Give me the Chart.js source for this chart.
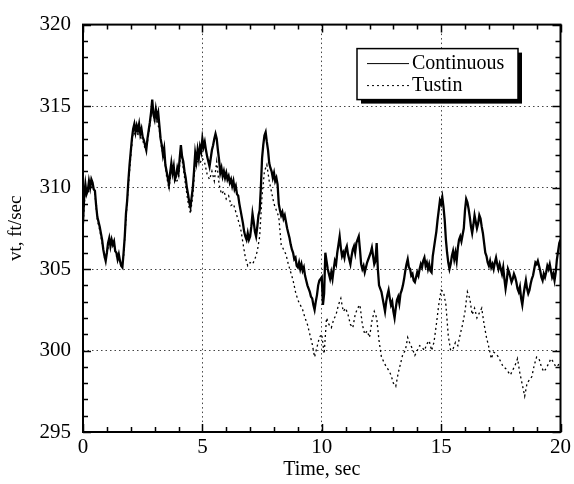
<!DOCTYPE html>
<html>
<head>
<meta charset="utf-8">
<script src="https://cdn.jsdelivr.net/npm/chart.js@4.4.0/dist/chart.umd.min.js"></script>
<style>
  html, body { margin: 0; padding: 0; background: #fff; }
  #wrap { width: 574px; height: 484px; }
</style>
</head>
<body>
<div id="wrap"><canvas id="chart" width="574" height="484"></canvas></div>
<script>
// series labels
const seriesNames = ['Continuous', 'Tustin'];

const contStep = 0.05;
const tustinStep = 0.1;

// vt, ft/sec - continuous model, one row per second
const contValues = [
  307.8,309.5,310.2,309.6,309.8,310.4,310.0,310.5,310.3,309.9,309.8,308.9,308.2,307.9,307.6,307.2,306.8,306.2,305.8,305.5,
  306.0,306.6,306.9,306.4,306.8,306.5,306.7,306.1,306.0,305.6,305.9,305.5,305.2,305.1,306.0,307.0,308.4,309.2,310.4,311.4,
  312.2,313.0,313.6,313.9,313.4,313.8,313.5,313.9,313.3,313.6,313.1,312.9,312.6,312.3,313.0,313.5,314.0,314.6,315.4,314.5,
  314.2,314.8,314.3,314.6,313.8,313.0,312.6,312.0,312.4,311.4,311.0,310.6,310.2,310.9,311.5,310.9,311.3,310.5,310.7,311.2,
  310.9,311.8,312.6,311.9,311.6,311.0,310.6,310.0,309.6,309.1,308.8,309.4,310.0,311.0,312.1,311.6,312.3,311.8,312.5,312.2,
  313.0,312.5,312.8,312.3,311.9,311.6,311.3,311.8,312.3,312.6,313.0,313.3,313.0,312.3,311.7,310.9,311.2,310.7,311.0,310.6,
  310.9,310.5,310.7,310.3,310.5,310.1,310.4,309.9,310.1,309.6,309.5,309.0,308.6,308.2,307.8,307.3,307.0,306.8,307.2,306.8,
  307.0,307.6,308.4,307.9,307.3,307.0,307.6,308.3,308.6,310.0,311.8,312.6,313.2,313.4,312.8,312.3,311.5,311.2,311.0,310.6,
  310.9,310.4,310.6,310.2,309.0,308.6,308.3,308.5,308.1,308.3,307.9,307.5,307.2,306.9,306.5,306.2,306.0,305.6,305.7,305.2,
  305.1,305.4,305.0,305.3,304.9,305.1,304.6,304.3,304.0,303.8,303.6,303.3,303.2,302.8,302.5,303.0,303.4,304.0,304.3,304.4,
  304.5,302.8,303.5,306.0,305.5,305.0,304.7,304.4,304.8,304.4,305.0,305.5,305.3,306.0,306.5,307.0,306.3,305.8,306.0,305.7,
  306.2,306.4,305.9,305.6,305.3,305.8,306.2,306.4,306.0,306.6,306.8,307.0,306.2,305.3,305.0,305.2,304.8,305.1,305.4,305.6,
  305.8,306.0,306.3,305.8,305.3,305.5,306.6,305.0,304.0,303.8,303.6,303.2,302.8,302.4,303.0,303.4,303.7,303.2,302.8,303.0,
  302.4,302.0,302.6,303.1,303.3,302.9,303.5,303.7,304.0,304.4,304.9,305.3,305.6,305.1,305.0,304.6,304.7,304.3,304.2,304.5,
  304.8,304.6,305.0,305.3,305.1,305.5,305.7,305.2,305.4,305.0,305.3,304.9,304.8,305.8,306.3,306.8,307.3,308.0,308.6,309.2,
  309.0,309.4,308.8,308.0,306.8,306.0,305.4,305.0,305.3,305.8,306.1,305.6,306.0,305.5,306.3,306.8,307.0,306.7,307.1,307.5,
  308.6,309.3,309.1,308.7,308.2,307.6,307.2,307.7,308.3,307.9,307.5,307.8,308.3,308.1,307.6,307.2,306.6,306.0,305.8,305.4,
  305.2,305.5,305.1,305.3,305.0,305.4,305.7,305.3,305.0,305.3,305.0,304.7,305.1,304.4,303.8,304.3,305.0,304.8,304.5,304.2,
  304.4,304.7,304.5,304.2,303.8,303.6,303.9,303.2,302.8,303.4,303.9,304.3,303.8,303.5,303.7,304.1,304.4,304.6,305.0,305.4,
  305.3,305.5,305.2,304.9,304.5,304.3,304.7,304.5,304.8,305.2,305.0,305.3,304.9,304.5,304.7,304.3,304.8,305.6,306.1,306.6,
  306.8
];

// vt, ft/sec - Tustin discretisation, one row per second
const tustinValues = [
  307.6,310.0,309.7,309.9,310.1,309.6,308.0,307.4,306.6,305.7,
  305.9,306.7,306.6,306.5,305.8,305.7,305.1,305.8,308.1,310.1,
  311.9,313.4,313.2,313.3,313.1,312.9,312.4,312.8,313.8,315.0,
  314.0,314.1,313.5,312.3,312.0,310.7,309.9,311.1,310.9,310.3,
  310.6,312.2,311.2,310.1,309.1,308.4,309.5,311.5,311.6,311.5,
  311.8,311.5,310.8,310.5,311.0,310.4,311.6,310.2,309.6,309.8,
  309.3,309.5,308.9,309.0,308.5,308.0,307.5,306.6,305.7,305.2,
  305.4,305.3,305.6,306.1,307.0,309.5,311.0,311.4,310.4,309.7,
  309.0,308.6,308.2,306.5,306.2,305.9,305.3,304.8,304.3,303.6,
  303.1,302.8,302.5,302.0,301.6,301.0,300.4,299.6,300.2,300.8,
  301.0,299.8,302.0,301.6,301.4,301.9,302.2,302.8,303.2,302.4,
  302.6,302.2,301.6,301.4,302.2,302.6,302.8,301.6,301.0,301.2,
  300.8,301.8,302.4,302.0,300.6,299.6,299.3,299.0,298.8,298.5,
  298.0,297.8,298.6,299.2,299.8,300.0,300.8,300.4,300.1,299.7,
  300.0,300.3,300.2,300.0,300.4,300.6,300.0,300.5,301.6,302.8,
  303.7,303.6,302.8,300.9,300.0,300.1,300.5,300.3,301.0,301.6,
  302.4,303.6,303.2,302.2,302.6,302.0,302.3,302.6,301.6,300.8,
  300.2,299.5,299.9,299.8,299.6,299.3,299.0,298.9,298.7,298.5,
  298.8,299.1,299.5,298.6,297.9,297.2,298.0,298.2,298.4,299.1,
  299.6,299.5,299.0,298.7,298.9,299.2,299.5,299.3,299.0,299.1,
  299.3
];

// axis ranges and labelled ticks
const xRange = [0, 20];
const yRange = [295, 320];
const xTickLabels = [0, 5, 10, 15, 20];
const yTickLabels = [295, 300, 305, 310, 315, 320];

const serif = '"Liberation Serif", "DejaVu Serif", "Times New Roman", serif';

function toPoints(values, step) {
  return values.map((v, i) => ({ x: +(i * step).toFixed(2), y: v }));
}

// inward ticks on all four sides + frame
const frameTicks = {
  id: 'frameTicks',
  afterDatasetsDraw(chart) {
    const { ctx, chartArea: a, scales: { x, y } } = chart;
    ctx.save();
    ctx.strokeStyle = '#000';
    ctx.lineWidth = 1.5;
    ctx.beginPath();
    for (let v = xRange[0]; v <= xRange[1]; v++) {
      const px = Math.round(x.getPixelForValue(v)) + 0.5;
      const len = xTickLabels.includes(v) ? 8 : 5;
      ctx.moveTo(px, a.bottom); ctx.lineTo(px, a.bottom - len);
      ctx.moveTo(px, a.top); ctx.lineTo(px, a.top + len);
    }
    for (let v = yRange[0]; v <= yRange[1]; v++) {
      const py = Math.round(y.getPixelForValue(v)) + 0.5;
      const len = yTickLabels.includes(v) ? 8 : 5;
      ctx.moveTo(a.left, py); ctx.lineTo(a.left + len, py);
      ctx.moveTo(a.right, py); ctx.lineTo(a.right - len, py);
    }
    ctx.stroke();
    ctx.lineWidth = 2;
    ctx.strokeRect(a.left, a.top, a.right - a.left, a.bottom - a.top);
    ctx.restore();
  }
};

// boxed legend with drop shadow, inside the plot
const boxLegend = {
  id: 'boxLegend',
  afterDraw(chart) {
    const { ctx, chartArea: a } = chart;
    const bx = a.left + 274, by = a.top + 24, bw = 161, bh = 51;
    ctx.save();
    ctx.fillStyle = '#000';
    ctx.fillRect(bx + 4, by + 4, bw, bh);
    ctx.fillStyle = '#fff';
    ctx.fillRect(bx, by, bw, bh);
    ctx.strokeStyle = '#000';
    ctx.lineWidth = 1.5;
    ctx.strokeRect(bx, by, bw, bh);
    ctx.font = '20px ' + serif;
    ctx.textBaseline = 'middle';
    ctx.fillStyle = '#000';
    chart.data.datasets.forEach((ds, i) => {
      const ly = by + 15 + i * 22;
      ctx.beginPath();
      ctx.lineWidth = 1;
      ctx.setLineDash(ds.borderDash || []);
      ctx.moveTo(bx + 10, ly);
      ctx.lineTo(bx + 52, ly);
      ctx.stroke();
      ctx.setLineDash([]);
      ctx.fillText(ds.label, bx + 55, ly);
    });
    ctx.restore();
  }
};

new Chart(document.getElementById('chart'), {
  type: 'line',
  data: {
    datasets: [
      {
        label: seriesNames[0],
        data: toPoints(contValues, contStep),
        borderColor: '#000',
        borderWidth: 2.3,
        pointRadius: 0,
        tension: 0
      },
      {
        label: seriesNames[1],
        data: toPoints(tustinValues, tustinStep),
        borderColor: '#000',
        borderWidth: 1.3,
        borderDash: [2, 3],
        pointRadius: 0,
        tension: 0
      }
    ]
  },
  options: {
    responsive: false,
    animation: false,
    devicePixelRatio: 1,
    layout: { padding: { top: 17, right: 11, left: 0, bottom: 0 } },
    plugins: {
      legend: { display: false },
      tooltip: { enabled: false }
    },
    scales: {
      x: {
        type: 'linear',
        min: xRange[0],
        max: xRange[1],
        afterFit: s => { s.height = 52; },
        border: { display: false, dash: [1.5, 3] },
        grid: {
          drawTicks: false,
          color: c => (c.tick && xTickLabels.includes(c.tick.value) ? '#444' : 'rgba(0,0,0,0)')
        },
        ticks: {
          stepSize: 1,
          autoSkip: false,
          maxRotation: 0,
          padding: 3,
          color: '#000',
          font: { family: serif, size: 21 },
          callback: v => (xTickLabels.includes(v) ? String(v) : '')
        },
        title: {
          display: true,
          text: 'Time, sec',
          color: '#000',
          font: { family: serif, size: 20 },
          padding: { top: 0, bottom: 2 }
        }
      },
      y: {
        min: yRange[0],
        max: yRange[1],
        afterFit: s => { s.width = 83; },
        border: { display: false, dash: [1.5, 3] },
        grid: {
          drawTicks: false,
          color: c => (c.tick && yTickLabels.includes(c.tick.value) ? '#444' : 'rgba(0,0,0,0)')
        },
        ticks: {
          stepSize: 1,
          autoSkip: false,
          padding: 12,
          color: '#000',
          font: { family: serif, size: 21 },
          callback: v => (yTickLabels.includes(v) ? String(v) : '')
        },
        title: {
          display: true,
          text: 'vt, ft/sec',
          color: '#000',
          font: { family: serif, size: 19 },
          padding: { top: 5, bottom: 0 }
        }
      }
    }
  },
  plugins: [frameTicks, boxLegend]
});
</script>
</body>
</html>
